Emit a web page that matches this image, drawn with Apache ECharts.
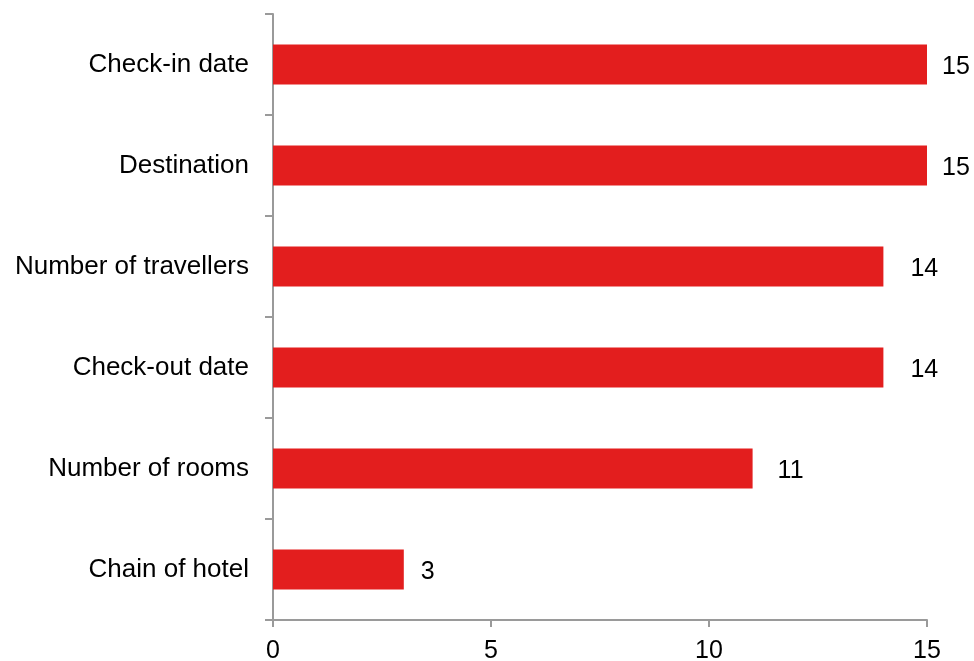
<!DOCTYPE html>
<html>
<head>
<meta charset="utf-8">
<style>
  html, body { margin: 0; padding: 0; background: #ffffff; }
  #chart { width: 974px; height: 661px; }
</style>
<script src="https://cdn.jsdelivr.net/npm/echarts@6/dist/echarts.min.js"></script>
</head>
<body>
<div id="chart"></div>
<script>
// Booking search criteria, listed top to bottom
const categories = ['Check-in date', 'Destination', 'Number of travellers', 'Check-out date', 'Number of rooms', 'Chain of hotel'];
const counts = [15, 15, 14, 14, 11, 3];
const xTicks = [0, 5, 10, 15];

// Gap between each bar end and its value label (px)
const labelGaps = [15, 15, 27, 27, 25, 17];

const font = '"Liberation Sans", Arial, sans-serif';
const axisGray = '#9a9a9a';

const chart = echarts.init(document.getElementById('chart'), null, { renderer: 'canvas' });

chart.setOption({
  animation: false,
  backgroundColor: '#ffffff',
  grid: {
    left: 273, right: 47, top: 14, bottom: 41,
    containLabel: false,
    outerBoundsMode: 'none'
  },
  xAxis: {
    type: 'value',
    min: xTicks[0],
    max: xTicks[xTicks.length - 1],
    interval: xTicks[1] - xTicks[0],
    splitLine: { show: false },
    axisLine: { show: true, lineStyle: { color: axisGray, width: 2 } },
    axisTick: { show: true, length: 7, lineStyle: { color: axisGray, width: 2 } },
    axisLabel: { color: '#000', fontSize: 25, fontFamily: font, margin: 19 }
  },
  yAxis: {
    type: 'category',
    data: categories,
    inverse: true,
    axisLine: { show: true, lineStyle: { color: axisGray, width: 2 } },
    axisTick: { show: true, length: 8, lineStyle: { color: axisGray, width: 2 } },
    axisLabel: { color: '#000', fontSize: 26, fontFamily: font, margin: 24 }
  },
  series: [{
    type: 'bar',
    barWidth: 40,
    itemStyle: { color: '#e31e1e' },
    data: counts.map((v, i) => ({
      value: v,
      label: { distance: labelGaps[i] }
    })),
    label: {
      show: true,
      position: 'right',
      offset: [0, 3],
      color: '#000',
      fontSize: 25,
      fontFamily: font
    }
  }]
});
</script>
</body>
</html>
